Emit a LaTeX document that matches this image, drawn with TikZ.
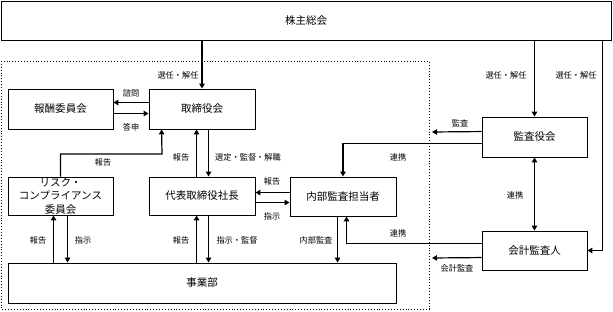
\documentclass[tikz,border=0pt]{standalone}
\usepackage{fontspec}
\setmainfont{Noto Sans CJK JP}
\usetikzlibrary{arrows.meta,calc}
\tikzset{
  box/.style={draw,line width=0.9pt,inner sep=0pt,font=\fontsize{10.5}{13}\selectfont,align=center},
  lbl/.style={inner sep=0pt,font=\fontsize{8.2}{9}\selectfont},
  conn/.style={line width=1.2pt,-{Triangle[length=5pt,width=5.5pt]}},
  dconn/.style={line width=1.2pt,{Triangle[length=5pt,width=5.5pt]}-{Triangle[length=5pt,width=5.5pt]}},
  plain/.style={line width=1.2pt}
}
\begin{document}
\begin{tikzpicture}[x=1pt,y=-1pt]
\useasboundingbox (0,0) rectangle (613,312);
\draw[line width=0.9pt,dotted] (1,61) rectangle (429,309);

\node[box,minimum width=610pt,minimum height=39pt] (kabu) at (306,20.5) {株主総会};
\node[box,minimum width=105pt,minimum height=40pt] (hoshu) at (60.5,109) {報酬委員会};
\node[box,minimum width=106pt,minimum height=40pt] (tori) at (202,109) {取締役会};
\node[box,minimum width=105pt,minimum height=38pt] (risk) at (60.5,196) {リスク・\\[0.5pt]コンプライアンス\\[0.5pt]委員会};
\node[box,minimum width=106pt,minimum height=38pt] (dai) at (202,196) {代表取締役社長};
\node[box,minimum width=106pt,minimum height=39pt] (nai) at (343,196.5) {内部監査担当者};
\node[box,minimum width=388pt,minimum height=40pt] (jig) at (202,283) {事業部};
\node[box,minimum width=105pt,minimum height=40pt] (kan) at (534.5,137) {監査役会};
\node[box,minimum width=105pt,minimum height=39pt] (kai) at (534.5,250.5) {会計監査人};

\coordinate (kansaend) at (432,132);
\coordinate (kaikeiend) at (432,258);

% shareholders
\draw[conn] (tori.north |- kabu.south) -- (tori.north);
\node[lbl] (l1) at (178,75) {選任・解任};
\draw[conn] (kan.north |- kabu.south) -- (kan.north);
\node[lbl] (l2) at (506,75) {選任・解任};
\draw[conn] ($(kabu.south west)+(602,0)$) |- (kai.east);
\node[lbl] (l3) at (576,75) {選任・解任};

% board and remuneration
\draw[conn] ($(tori.north west)+(0,14)$) -- ($(hoshu.north east)+(0,14)$);
\node[lbl] (l4) at (131,93) {諮問};
\draw[conn] ($(hoshu.north east)+(0,25)$) -- ($(tori.north west)+(0,25)$);
\node[lbl] (l5) at (131,127) {答申};

% risk to board
\draw[conn] (risk.north) |- (162,154) -- ($(tori.south west)+(13,0)$);
\node[lbl] (l6) at (103,162) {報告};

% board and president
\draw[conn] ($(dai.north west)+(48,0)$) -- ($(tori.south west)+(48,0)$);
\node[lbl] (l7) at (181,157) {報告};
\draw[conn] ($(tori.south west)+(60,0)$) -- ($(dai.north west)+(60,0)$);
\node[lbl] (l8) at (248,157) {選定・監督・解職};

% president and internal audit
\draw[conn] ($(nai.north west)+(0,16)$) -- ($(dai.north east)+(0,16)$);
\node[lbl] (l9) at (272,181) {報告};
\draw[conn] ($(dai.north east)+(0,26)$) -- ($(nai.north west)+(0,26)$);
\node[lbl] (l10) at (272,216) {指示};

% risk and business
\draw[conn] ($(jig.north west)+(46,0)$) -- ($(risk.south west)+(46,0)$);
\node[lbl] (l11) at (38,240) {報告};
\draw[conn] ($(risk.south west)+(60,0)$) -- ($(jig.north west)+(60,0)$);
\node[lbl] (l12) at (83,240) {指示};

% president and business
\draw[conn] ($(jig.north west)+(189,0)$) -- ($(dai.south west)+(48,0)$);
\node[lbl] (l13) at (181,240) {報告};
\draw[conn] ($(dai.south west)+(60,0)$) -- ($(jig.north west)+(201,0)$);
\node[lbl] (l14) at (237,240) {指示・監督};

% internal audit and business
\draw[conn] ($(nai.south west)+(48,0)$) -- ($(jig.north west)+(330,0)$);
\node[lbl] (l15) at (316,240) {内部監査};

% auditors
\draw[conn] ($(kan.north west)+(0,15)$) -- (kansaend);
\node[lbl] (l16) at (460,123) {監査};
\draw[conn] ($(kan.north west)+(0,27)$) -| (nai.north);
\node[lbl] (l17) at (398,157) {連携};
\draw[dconn] (kan.south) -- (kai.north);
\node[lbl] (l18) at (515,195) {連携};
\draw[conn] ($(kai.north west)+(0,13)$) -| ($(nai.south west)+(57,0)$);
\node[lbl] (l19) at (398,233) {連携};
\draw[conn] ($(kai.north west)+(0,27)$) -- (kaikeiend);
\node[lbl] (l20) at (457,268) {会計監査};
\end{tikzpicture}
\end{document}
